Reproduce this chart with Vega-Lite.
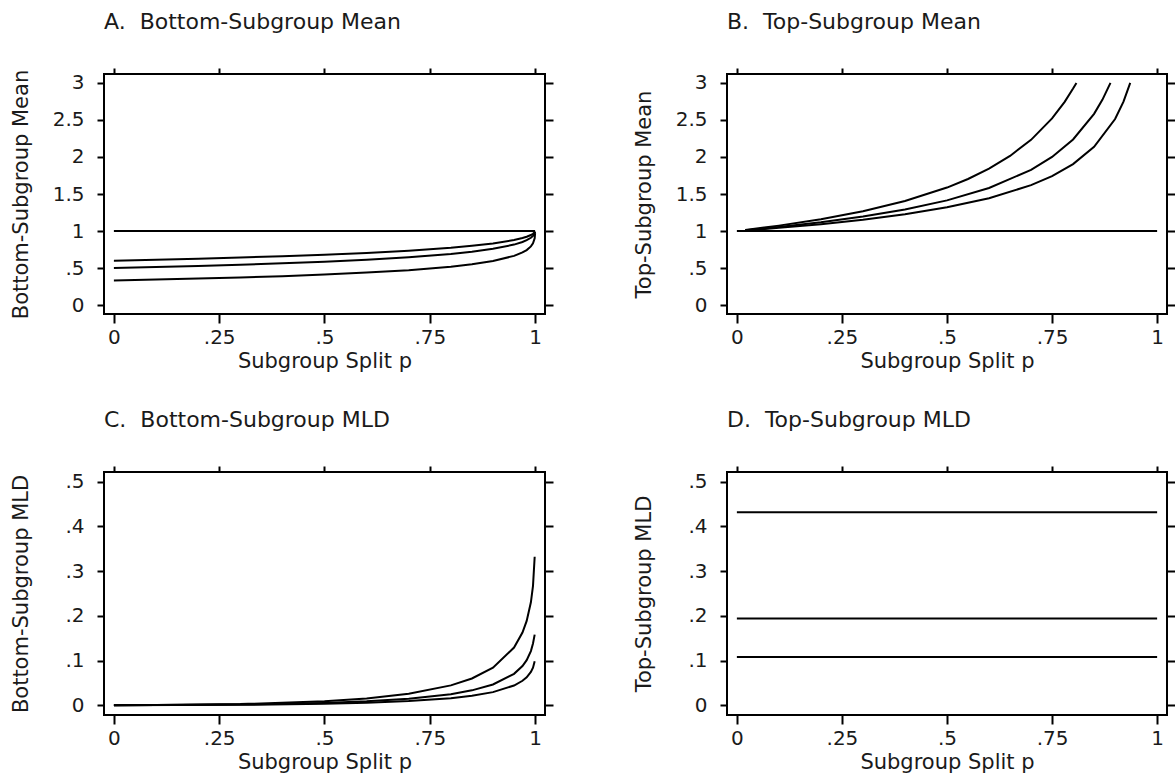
{
  "$schema": "https://vega.github.io/schema/vega-lite/v6.json",
  "background": "white",
  "padding": {"left": 8, "top": 10, "right": 5, "bottom": 5},
  "config": {
    "font": "DejaVu Sans",
    "view": {"stroke": "#000", "strokeWidth": 2},
    "axis": {
      "grid": false, "domain": false, "tickColor": "#000", "tickWidth": 2,
      "labelColor": "#1a1a1a", "labelFontSize": 20, "labelFont": "DejaVu Sans",
      "titleColor": "#1a1a1a", "titleFontSize": 21, "titleFontWeight": "normal", "titleFont": "DejaVu Sans",
      "labelFlush": false, "labelOverlap": false, "labelBound": false
    },
    "title": {"fontSize": 22, "fontWeight": "normal", "anchor": "start", "frame": "group", "color": "#1a1a1a", "offset": 33, "font": "DejaVu Sans"},
    "line": {"color": "#000", "strokeWidth": 2}
  },
  "datasets": {
    "A": [
      {"p": 0, "v": 1, "s": "ref"}, {"p": 1, "v": 1, "s": "ref"},
      {"p": 0, "v": 0.333, "s": "a15"}, {"p": 0.1, "v": 0.345, "s": "a15"}, {"p": 0.2, "v": 0.358, "s": "a15"}, {"p": 0.3, "v": 0.374, "s": "a15"}, {"p": 0.4, "v": 0.391, "s": "a15"}, {"p": 0.5, "v": 0.413, "s": "a15"}, {"p": 0.6, "v": 0.439, "s": "a15"}, {"p": 0.7, "v": 0.472, "s": "a15"}, {"p": 0.8, "v": 0.519, "s": "a15"}, {"p": 0.85, "v": 0.551, "s": "a15"}, {"p": 0.9, "v": 0.595, "s": "a15"}, {"p": 0.95, "v": 0.665, "s": "a15"}, {"p": 0.97, "v": 0.711, "s": "a15"}, {"p": 0.98, "v": 0.743, "s": "a15"}, {"p": 0.99, "v": 0.792, "s": "a15"}, {"p": 0.995, "v": 0.833, "s": "a15"}, {"p": 0.999, "v": 0.901, "s": "a15"}, {"p": 1, "v": 0.97, "s": "a15"},
      {"p": 0, "v": 0.5, "s": "a2"}, {"p": 0.1, "v": 0.513, "s": "a2"}, {"p": 0.2, "v": 0.528, "s": "a2"}, {"p": 0.3, "v": 0.545, "s": "a2"}, {"p": 0.4, "v": 0.564, "s": "a2"}, {"p": 0.5, "v": 0.586, "s": "a2"}, {"p": 0.6, "v": 0.613, "s": "a2"}, {"p": 0.7, "v": 0.646, "s": "a2"}, {"p": 0.8, "v": 0.691, "s": "a2"}, {"p": 0.85, "v": 0.721, "s": "a2"}, {"p": 0.9, "v": 0.76, "s": "a2"}, {"p": 0.95, "v": 0.817, "s": "a2"}, {"p": 0.97, "v": 0.852, "s": "a2"}, {"p": 0.98, "v": 0.876, "s": "a2"}, {"p": 0.99, "v": 0.909, "s": "a2"}, {"p": 0.995, "v": 0.934, "s": "a2"}, {"p": 0.999, "v": 0.969, "s": "a2"}, {"p": 1, "v": 0.99, "s": "a2"},
      {"p": 0, "v": 0.6, "s": "a25"}, {"p": 0.1, "v": 0.613, "s": "a25"}, {"p": 0.2, "v": 0.627, "s": "a25"}, {"p": 0.3, "v": 0.642, "s": "a25"}, {"p": 0.4, "v": 0.66, "s": "a25"}, {"p": 0.5, "v": 0.681, "s": "a25"}, {"p": 0.6, "v": 0.705, "s": "a25"}, {"p": 0.7, "v": 0.735, "s": "a25"}, {"p": 0.8, "v": 0.774, "s": "a25"}, {"p": 0.85, "v": 0.8, "s": "a25"}, {"p": 0.9, "v": 0.832, "s": "a25"}, {"p": 0.95, "v": 0.878, "s": "a25"}, {"p": 0.97, "v": 0.905, "s": "a25"}, {"p": 0.98, "v": 0.923, "s": "a25"}, {"p": 0.99, "v": 0.946, "s": "a25"}, {"p": 0.995, "v": 0.963, "s": "a25"}, {"p": 0.999, "v": 0.985, "s": "a25"}, {"p": 1, "v": 0.995, "s": "a25"}
    ],
    "B": [
      {"p": 0, "v": 1, "s": "ref"}, {"p": 1, "v": 1, "s": "ref"},
      {"p": 0.02, "v": 1.013, "s": "b15"}, {"p": 0.1, "v": 1.073, "s": "b15"}, {"p": 0.2, "v": 1.16, "s": "b15"}, {"p": 0.3, "v": 1.268, "s": "b15"}, {"p": 0.4, "v": 1.406, "s": "b15"}, {"p": 0.5, "v": 1.587, "s": "b15"}, {"p": 0.55, "v": 1.703, "s": "b15"}, {"p": 0.6, "v": 1.842, "s": "b15"}, {"p": 0.65, "v": 2.014, "s": "b15"}, {"p": 0.7, "v": 2.231, "s": "b15"}, {"p": 0.75, "v": 2.52, "s": "b15"}, {"p": 0.78, "v": 2.744, "s": "b15"}, {"p": 0.8, "v": 2.924, "s": "b15"}, {"p": 0.808, "v": 3.0, "s": "b15"},
      {"p": 0.02, "v": 1.01, "s": "b2"}, {"p": 0.1, "v": 1.054, "s": "b2"}, {"p": 0.2, "v": 1.118, "s": "b2"}, {"p": 0.3, "v": 1.195, "s": "b2"}, {"p": 0.4, "v": 1.291, "s": "b2"}, {"p": 0.5, "v": 1.414, "s": "b2"}, {"p": 0.6, "v": 1.581, "s": "b2"}, {"p": 0.7, "v": 1.826, "s": "b2"}, {"p": 0.75, "v": 2.0, "s": "b2"}, {"p": 0.8, "v": 2.236, "s": "b2"}, {"p": 0.85, "v": 2.582, "s": "b2"}, {"p": 0.87, "v": 2.774, "s": "b2"}, {"p": 0.889, "v": 3.0, "s": "b2"},
      {"p": 0.02, "v": 1.008, "s": "b25"}, {"p": 0.1, "v": 1.043, "s": "b25"}, {"p": 0.2, "v": 1.093, "s": "b25"}, {"p": 0.3, "v": 1.153, "s": "b25"}, {"p": 0.4, "v": 1.227, "s": "b25"}, {"p": 0.5, "v": 1.32, "s": "b25"}, {"p": 0.6, "v": 1.443, "s": "b25"}, {"p": 0.7, "v": 1.619, "s": "b25"}, {"p": 0.75, "v": 1.741, "s": "b25"}, {"p": 0.8, "v": 1.904, "s": "b25"}, {"p": 0.85, "v": 2.136, "s": "b25"}, {"p": 0.9, "v": 2.512, "s": "b25"}, {"p": 0.92, "v": 2.746, "s": "b25"}, {"p": 0.936, "v": 3.0, "s": "b25"}
    ],
    "C": [
      {"p": 0, "v": 0, "s": "c15"}, {"p": 0.1, "v": 0.0002, "s": "c15"}, {"p": 0.3, "v": 0.0024, "s": "c15"}, {"p": 0.5, "v": 0.0088, "s": "c15"}, {"p": 0.6, "v": 0.0151, "s": "c15"}, {"p": 0.7, "v": 0.0257, "s": "c15"}, {"p": 0.8, "v": 0.0443, "s": "c15"}, {"p": 0.85, "v": 0.0598, "s": "c15"}, {"p": 0.9, "v": 0.084, "s": "c15"}, {"p": 0.95, "v": 0.1289, "s": "c15"}, {"p": 0.97, "v": 0.1626, "s": "c15"}, {"p": 0.98, "v": 0.1887, "s": "c15"}, {"p": 0.99, "v": 0.2304, "s": "c15"}, {"p": 0.995, "v": 0.2672, "s": "c15"}, {"p": 0.999, "v": 0.3322, "s": "c15"},
      {"p": 0, "v": 0, "s": "c2"}, {"p": 0.3, "v": 0.0013, "s": "c2"}, {"p": 0.5, "v": 0.0049, "s": "c2"}, {"p": 0.6, "v": 0.0086, "s": "c2"}, {"p": 0.7, "v": 0.0144, "s": "c2"}, {"p": 0.8, "v": 0.0247, "s": "c2"}, {"p": 0.85, "v": 0.0332, "s": "c2"}, {"p": 0.9, "v": 0.0463, "s": "c2"}, {"p": 0.95, "v": 0.0702, "s": "c2"}, {"p": 0.97, "v": 0.0877, "s": "c2"}, {"p": 0.98, "v": 0.1008, "s": "c2"}, {"p": 0.99, "v": 0.1211, "s": "c2"}, {"p": 0.995, "v": 0.1381, "s": "c2"}, {"p": 0.999, "v": 0.158, "s": "c2"},
      {"p": 0, "v": 0, "s": "c25"}, {"p": 0.3, "v": 0.0007, "s": "c25"}, {"p": 0.5, "v": 0.0032, "s": "c25"}, {"p": 0.6, "v": 0.0054, "s": "c25"}, {"p": 0.7, "v": 0.0091, "s": "c25"}, {"p": 0.8, "v": 0.0157, "s": "c25"}, {"p": 0.85, "v": 0.021, "s": "c25"}, {"p": 0.9, "v": 0.0292, "s": "c25"}, {"p": 0.95, "v": 0.044, "s": "c25"}, {"p": 0.97, "v": 0.0546, "s": "c25"}, {"p": 0.98, "v": 0.0624, "s": "c25"}, {"p": 0.99, "v": 0.0743, "s": "c25"}, {"p": 0.995, "v": 0.084, "s": "c25"}, {"p": 0.999, "v": 0.0986, "s": "c25"}
    ],
    "D": [
      {"p": 0, "v": 0.432, "s": "d15"}, {"p": 1, "v": 0.432, "s": "d15"},
      {"p": 0, "v": 0.194, "s": "d2"}, {"p": 1, "v": 0.194, "s": "d2"},
      {"p": 0, "v": 0.108, "s": "d25"}, {"p": 1, "v": 0.108, "s": "d25"}
    ]
  },
  "columns": 2,
  "spacing": {"row": 158, "column": 182},
  "bounds": "flush",
  "concat": [
    {
      "width": 441, "height": 240,
      "title": {"text": "A.\u00a0 Bottom-Subgroup Mean"},
      "data": {"name": "A"},
      "resolve": {"axis": {"x": "independent", "y": "independent"}},
      "layer": [
        {"mark": {"type": "line"},
         "encoding": {
           "x": {"field": "p", "type": "quantitative", "scale": {"domain": [-0.0235, 1.0235], "nice": false, "zero": false},
                 "axis": {"orient": "bottom", "values": [0, 0.25, 0.5, 0.75, 1], "format": ".2~f", "labelExpr": "datum.value > 0 && datum.value < 1 ? replace(datum.label, '0.', '.') : datum.label", "tickSize": 9, "labelPadding": 4, "title": "Subgroup Split p", "titleY": 36}},
           "y": {"field": "v", "type": "quantitative", "scale": {"domain": [-0.12, 3.12], "nice": false, "zero": false},
                 "axis": {"orient": "left", "values": [0, 0.5, 1, 1.5, 2, 2.5, 3], "format": ".1~f", "labelExpr": "datum.value > 0 && datum.value < 1 ? replace(datum.label, '0.', '.') : datum.label", "tickSize": 7, "labelPadding": 13, "title": "Bottom-Subgroup Mean", "titleX": -73}},
           "detail": {"field": "s"}
         }},
        {"mark": {"type": "line", "opacity": 0},
         "encoding": {
           "x": {"field": "p", "type": "quantitative", "axis": {"orient": "top", "values": [0, 0.25, 0.5, 0.75, 1], "labels": false, "title": null, "tickSize": 6}},
           "y": {"field": "v", "type": "quantitative", "axis": {"orient": "right", "values": [0, 0.5, 1, 1.5, 2, 2.5, 3], "labels": false, "title": null, "tickSize": 8}},
           "detail": {"field": "s"}
         }}
      ]
    },
    {
      "width": 440, "height": 240,
      "title": {"text": "B.\u00a0 Top-Subgroup Mean"},
      "data": {"name": "B"},
      "resolve": {"axis": {"x": "independent", "y": "independent"}},
      "layer": [
        {"mark": {"type": "line"},
         "encoding": {
           "x": {"field": "p", "type": "quantitative", "scale": {"domain": [-0.0235, 1.0235], "nice": false, "zero": false},
                 "axis": {"orient": "bottom", "values": [0, 0.25, 0.5, 0.75, 1], "format": ".2~f", "labelExpr": "datum.value > 0 && datum.value < 1 ? replace(datum.label, '0.', '.') : datum.label", "tickSize": 9, "labelPadding": 4, "title": "Subgroup Split p", "titleY": 36}},
           "y": {"field": "v", "type": "quantitative", "scale": {"domain": [-0.12, 3.12], "nice": false, "zero": false},
                 "axis": {"orient": "left", "values": [0, 0.5, 1, 1.5, 2, 2.5, 3], "format": ".1~f", "labelExpr": "datum.value > 0 && datum.value < 1 ? replace(datum.label, '0.', '.') : datum.label", "tickSize": 7, "labelPadding": 13, "title": "Top-Subgroup Mean", "titleX": -73}},
           "detail": {"field": "s"}
         }},
        {"mark": {"type": "line", "opacity": 0},
         "encoding": {
           "x": {"field": "p", "type": "quantitative", "axis": {"orient": "top", "values": [0, 0.25, 0.5, 0.75, 1], "labels": false, "title": null, "tickSize": 6}},
           "y": {"field": "v", "type": "quantitative", "axis": {"orient": "right", "values": [0, 0.5, 1, 1.5, 2, 2.5, 3], "labels": false, "title": null, "tickSize": 8}},
           "detail": {"field": "s"}
         }}
      ]
    },
    {
      "width": 441, "height": 243,
      "title": {"text": "C.\u00a0 Bottom-Subgroup MLD"},
      "data": {"name": "C"},
      "resolve": {"axis": {"x": "independent", "y": "independent"}},
      "layer": [
        {"mark": {"type": "line"},
         "encoding": {
           "x": {"field": "p", "type": "quantitative", "scale": {"domain": [-0.0235, 1.0235], "nice": false, "zero": false},
                 "axis": {"orient": "bottom", "values": [0, 0.25, 0.5, 0.75, 1], "format": ".2~f", "labelExpr": "datum.value > 0 && datum.value < 1 ? replace(datum.label, '0.', '.') : datum.label", "tickSize": 9, "labelPadding": 4, "title": "Subgroup Split p", "titleY": 36}},
           "y": {"field": "v", "type": "quantitative", "scale": {"domain": [-0.022, 0.522], "nice": false, "zero": false},
                 "axis": {"orient": "left", "values": [0, 0.1, 0.2, 0.3, 0.4, 0.5], "format": ".1~f", "labelExpr": "datum.value > 0 && datum.value < 1 ? replace(datum.label, '0.', '.') : datum.label", "tickSize": 7, "labelPadding": 13, "title": "Bottom-Subgroup MLD", "titleX": -73}},
           "detail": {"field": "s"}
         }},
        {"mark": {"type": "line", "opacity": 0},
         "encoding": {
           "x": {"field": "p", "type": "quantitative", "axis": {"orient": "top", "values": [0, 0.25, 0.5, 0.75, 1], "labels": false, "title": null, "tickSize": 6}},
           "y": {"field": "v", "type": "quantitative", "axis": {"orient": "right", "values": [0, 0.1, 0.2, 0.3, 0.4, 0.5], "labels": false, "title": null, "tickSize": 8}},
           "detail": {"field": "s"}
         }}
      ]
    },
    {
      "width": 440, "height": 243,
      "title": {"text": "D.\u00a0 Top-Subgroup MLD"},
      "data": {"name": "D"},
      "resolve": {"axis": {"x": "independent", "y": "independent"}},
      "layer": [
        {"mark": {"type": "line"},
         "encoding": {
           "x": {"field": "p", "type": "quantitative", "scale": {"domain": [-0.0235, 1.0235], "nice": false, "zero": false},
                 "axis": {"orient": "bottom", "values": [0, 0.25, 0.5, 0.75, 1], "format": ".2~f", "labelExpr": "datum.value > 0 && datum.value < 1 ? replace(datum.label, '0.', '.') : datum.label", "tickSize": 9, "labelPadding": 4, "title": "Subgroup Split p", "titleY": 36}},
           "y": {"field": "v", "type": "quantitative", "scale": {"domain": [-0.022, 0.522], "nice": false, "zero": false},
                 "axis": {"orient": "left", "values": [0, 0.1, 0.2, 0.3, 0.4, 0.5], "format": ".1~f", "labelExpr": "datum.value > 0 && datum.value < 1 ? replace(datum.label, '0.', '.') : datum.label", "tickSize": 7, "labelPadding": 13, "title": "Top-Subgroup MLD", "titleX": -73}},
           "detail": {"field": "s"}
         }},
        {"mark": {"type": "line", "opacity": 0},
         "encoding": {
           "x": {"field": "p", "type": "quantitative", "axis": {"orient": "top", "values": [0, 0.25, 0.5, 0.75, 1], "labels": false, "title": null, "tickSize": 6}},
           "y": {"field": "v", "type": "quantitative", "axis": {"orient": "right", "values": [0, 0.1, 0.2, 0.3, 0.4, 0.5], "labels": false, "title": null, "tickSize": 8}},
           "detail": {"field": "s"}
         }}
      ]
    }
  ]
}
